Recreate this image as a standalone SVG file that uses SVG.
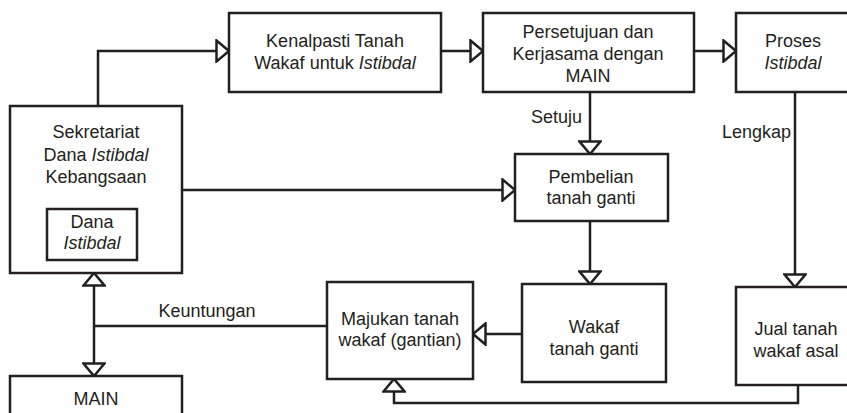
<svg xmlns="http://www.w3.org/2000/svg" width="847" height="413" viewBox="0 0 847 413">
<style>
.box{fill:#fff;stroke:#231f20;stroke-width:2.5}
.ln{fill:none;stroke:#231f20;stroke-width:2.5}
text{font-family:"Liberation Sans",Arial,sans-serif;font-size:18px;fill:#231f20}
.c{text-anchor:middle}
.r{text-anchor:end}
.i{font-style:italic}
</style>
<defs>
<marker id="ah" markerUnits="userSpaceOnUse" markerWidth="16" markerHeight="24" refX="14" refY="12" orient="auto-start-reverse" viewBox="0 0 16 24">
<path d="M1.5,1.5 L14,12 L1.5,22.5 Z" fill="#fff" stroke="#231f20" stroke-width="2.5" stroke-linejoin="miter"/>
</marker>
</defs>
<rect width="847" height="413" fill="#fff"/>
<g id="connectors">
<path class="ln" d="M98,106 V51 H229" marker-end="url(#ah)"/>
<path class="ln" d="M441,51 H483" marker-end="url(#ah)"/>
<path class="ln" d="M694,51 H736" marker-end="url(#ah)"/>
<path class="ln" d="M590,92 V154" marker-end="url(#ah)"/>
<path class="ln" d="M182,190 H515" marker-end="url(#ah)"/>
<path class="ln" d="M590,221 V284" marker-end="url(#ah)"/>
<path class="ln" d="M795,92 V287" marker-end="url(#ah)"/>
<path class="ln" d="M522,334 H473" marker-end="url(#ah)"/>
<path class="ln" d="M798,385 V403 H394 V379" marker-end="url(#ah)"/>
<path class="ln" d="M327,326 H94"/>
<path class="ln" d="M94,273 V376" marker-start="url(#ah)" marker-end="url(#ah)"/>
<text class="r" x="582" y="123">Setuju</text>
<text class="r" x="791" y="138">Lengkap</text>
<text class="c" x="207" y="317">Keuntungan</text>
</g>
<g id="kenalpasti">
<rect class="box" x="229" y="13" width="212" height="79"/>
<text class="c" x="335" y="47">Kenalpasti Tanah</text>
<text class="c" x="335" y="69">Wakaf untuk <tspan class="i">Istibdal</tspan></text>
</g>
<g id="persetujuan">
<rect class="box" x="483" y="13" width="211" height="79"/>
<text class="c" x="588" y="38">Persetujuan dan</text>
<text class="c" x="588" y="60">Kerjasama dengan</text>
<text class="c" x="588" y="82">MAIN</text>
</g>
<g id="proses">
<rect class="box" x="736" y="13" width="116" height="79"/>
<text class="c" x="793" y="47">Proses</text>
<text class="c i" x="793" y="69">Istibdal</text>
</g>
<g id="sekretariat">
<rect class="box" x="10" y="106" width="172" height="167"/>
<text class="c" x="96" y="138">Sekretariat</text>
<text class="c" x="96" y="161">Dana <tspan class="i">Istibdal</tspan></text>
<text class="c" x="96" y="183">Kebangsaan</text>
</g>
<g id="dana">
<rect class="box" x="47" y="209" width="90" height="51"/>
<text class="c" x="92" y="228">Dana</text>
<text class="c i" x="92" y="249">Istibdal</text>
</g>
<g id="pembelian">
<rect class="box" x="515" y="154" width="153" height="67"/>
<text class="c" x="591" y="183">Pembelian</text>
<text class="c" x="591" y="204">tanah ganti</text>
</g>
<g id="wakaf">
<rect class="box" x="522" y="284" width="144" height="98"/>
<text class="c" x="594" y="333">Wakaf</text>
<text class="c" x="594" y="355">tanah ganti</text>
</g>
<g id="jual">
<rect class="box" x="736" y="287" width="116" height="98"/>
<text class="c" x="796" y="335">Jual tanah</text>
<text class="c" x="796" y="357">wakaf asal</text>
</g>
<g id="majukan">
<rect class="box" x="327" y="282" width="146" height="97"/>
<text class="c" x="400" y="325">Majukan tanah</text>
<text class="c" x="400" y="346">wakaf (gantian)</text>
</g>
<g id="main">
<rect class="box" x="10" y="376" width="172" height="50"/>
<text class="c" x="96" y="405">MAIN</text>
</g>
</svg>
